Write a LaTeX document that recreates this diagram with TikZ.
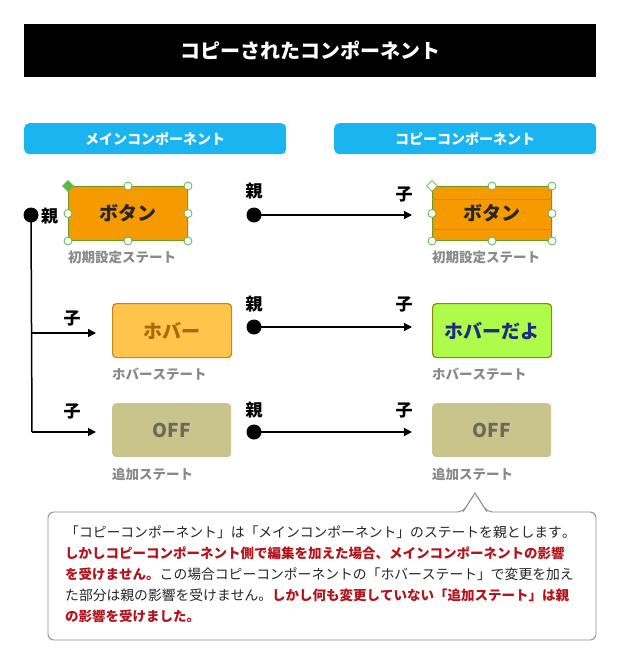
\documentclass[tikz,border=0pt]{standalone}
\usepackage{fontspec}
\setmainfont{Noto Sans CJK JP}[Kerning=Off]
\usetikzlibrary{arrows.meta,shapes.geometric}
\definecolor{hdr}{HTML}{1AB4F0}
\definecolor{btnorange}{HTML}{F59A00}
\definecolor{btnline}{HTML}{D8880C}
\definecolor{btnedge}{HTML}{6E9A2E}
\definecolor{handle}{HTML}{5DB84A}
\definecolor{hovfill}{HTML}{FFC44C}
\definecolor{hovedge}{HTML}{C08A1E}
\definecolor{hovtext}{HTML}{A86A08}
\definecolor{grnfill}{HTML}{AEFB4A}
\definecolor{grnedge}{HTML}{8A8A10}
\definecolor{navy}{HTML}{1C2C80}
\definecolor{offfill}{HTML}{C8C48C}
\definecolor{offtext}{HTML}{6A6A5A}
\definecolor{lbl}{HTML}{8A8A8A}
\definecolor{redtxt}{HTML}{B3141C}
\definecolor{boxedge}{HTML}{8C8C8C}
\newcommand\redbold[1]{{\fontsize{13.5}{20.8}\selectfont\bfseries\color{redtxt}#1}}
\tikzset{
  hdrbar/.style={fill=hdr, rounded corners=5pt, minimum width=262pt, minimum height=31pt, inner sep=0pt, anchor=north west, text=white, font=\bfseries\fontsize{14}{14}\selectfont},
  statebox/.style={rounded corners=4pt, minimum width=119pt, minimum height=54pt, inner sep=0pt, anchor=north west, font=\bfseries\fontsize{19}{19}\selectfont},
  statelbl/.style={anchor=west, inner sep=0pt, text=lbl, font=\bfseries\fontsize{13.5}{13.5}\selectfont},
  kanji/.style={inner sep=0pt, font=\bfseries\fontsize{17}{17}\selectfont},
  blackdot/.style={circle, fill=black, minimum size=15pt, inner sep=0pt},
  handlecirc/.style={circle, draw=handle, fill=white, line width=0.8pt, minimum size=8pt, inner sep=0pt},
  handlediam/.style={diamond, draw=handle, line width=0.8pt, minimum size=11pt, inner sep=0pt},
  conn/.style={line width=1.5pt, -{Triangle[length=8pt,width=8pt]}},
  plain/.style={line width=1.5pt}
}
\begin{document}
\begin{tikzpicture}[x=1pt,y=-1pt]
\useasboundingbox[fill=white] (0,0) rectangle (620,660);
% title
\node[fill=black, minimum width=572pt, minimum height=53pt, inner sep=0pt, anchor=north west, text=white, font=\bfseries\fontsize{20}{20}\selectfont] (title) at (24,24) {コピーされたコンポーネント};
% headers
\node[hdrbar] (hmain) at (24,123) {メインコンポーネント};
\node[hdrbar] (hcopy) at (334,123) {コピーコンポーネント};
% row 1 buttons
\node[statebox, fill=btnorange, draw=btnedge, line width=1pt, rounded corners=2pt, text=black!85] (b1) at (68,186) {ボタン};
\node[statebox, fill=btnorange, draw=btnedge, line width=1pt, rounded corners=2pt] (b2) at (432,186) {};
\draw[btnline, line width=0.5pt] ([yshift=-13pt]b2.north west) -- ([yshift=-13pt]b2.north east);
\draw[btnline, line width=0.5pt] ([yshift=12pt]b2.south west) -- ([yshift=12pt]b2.south east);
\node[inner sep=0pt, text=black!85, font=\bfseries\fontsize{19}{19}\selectfont] (b2t) at (b2.center) {ボタン};
\foreach \a in {north,north east,east,south east,south,south west,west}{
  \node[handlecirc] at (b1.\a) {};
  \node[handlecirc] at (b2.\a) {};
}
\node[handlediam, fill=handle] (d1) at (b1.north west) {};
\node[handlediam, fill=white] (d2) at (b2.north west) {};
\node[statelbl] (l1) at (68,257) {初期設定ステート};
\node[statelbl] (r1) at (432,257) {初期設定ステート};
% row 2
\node[statebox, fill=hovfill, draw=hovedge, line width=1.2pt, text=hovtext] (b3) at (112,303) {ホバー};
\node[statebox, fill=grnfill, draw=grnedge, line width=1.2pt, text=navy] (b4) at (432,303) {ホバーだよ};
\node[statelbl] (l2) at (112,374) {ホバーステート};
\node[statelbl] (r2) at (432,374) {ホバーステート};
% row 3
\node[statebox, fill=offfill, text=offtext] (b5) at (112,403) {OFF};
\node[statebox, fill=offfill, text=offtext] (b6) at (432,403) {OFF};
\node[statelbl] (l3) at (112,474) {追加ステート};
\node[statelbl] (r3) at (432,474) {追加ステート};
% left tree
\node[blackdot] (p0) at (31,215) {};
\node[kanji, anchor=west] (p0t) at (41,216) {親};
\coordinate (j1) at (32,333);
\coordinate (j2) at (32,432);
\coordinate (a1) at (96,333);
\coordinate (a2) at (96,432);
\draw[plain] (p0.center) -- (j2);
\draw[conn] (j1) -- (a1);
\draw[conn] (j2) -- (a2);
\node[kanji] (c1) at (72,318) {子};
\node[kanji] (c2) at (72,411) {子};
% middle connectors
\foreach \n/\y in {1/215,2/327,3/432}{
  \node[blackdot] (m\n) at (254,\y) {};
  \coordinate (e\n) at (412,\y);
  \draw[conn] (m\n.center) -- (e\n);
}
\node[kanji] (mt1) at (254,191) {親};
\node[kanji] (mt2) at (254,304) {親};
\node[kanji] (mt3) at (254,410) {親};
\node[kanji] (ct1) at (404,194) {子};
\node[kanji] (ct2) at (404,304) {子};
\node[kanji] (ct3) at (404,410) {子};
% callout
\draw[boxedge, line width=0.9pt, rounded corners=6pt, fill=white] (463,512) -- (48,512) -- (48,640) -- (596,640) -- (596,512) -- (487,512) -- (475,493) -- cycle;
\fill[white] (463.6,511.2) -- (486.4,511.2) -- (475,494.5) -- cycle;
\draw[boxedge, line width=0.9pt] (463,512) -- (475,493) -- (487,512);
\node[anchor=north west, inner sep=0pt, align=left, text=black!85, font=\fontsize{13.8}{20.8}\selectfont] (note) at (65,526) {%
「コピーコンポーネント」は「メインコンポーネント」のステートを親とします。\\
\redbold{しかしコピーコンポーネント側で編集を加えた場合、メインコンポーネントの影響}\\
\redbold{を受けません。}この場合コピーコンポーネントの「ホバーステート」で変更を加え\\
た部分は親の影響を受けません。\redbold{しかし何も変更していない「追加ステート」は親}\\
\redbold{の影響を受けました。}};
\end{tikzpicture}
\end{document}
